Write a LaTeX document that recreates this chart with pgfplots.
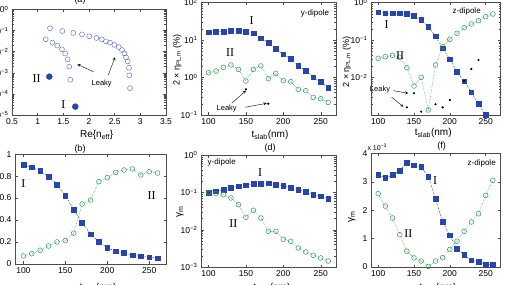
\documentclass[border=0pt]{standalone}
\usepackage{pgfplots}
\pgfplotsset{compat=1.18}
\usepackage{fontspec}
\setmainfont{Liberation Sans}
\newfontfamily\serif{Liberation Serif}
\definecolor{mblue}{RGB}{40,70,170}
\definecolor{mgreen}{RGB}{50,150,85}
\definecolor{abl}{RGB}{80,100,190}
\pgfplotsset{
  mstyle/.style={scale only axis, anchor=south west, axis line style={black!70}, tick style={black!70, thin},
    tick align=inside, major tick length=2.5pt, minor tick length=1.5pt,
    tick label style={font=\fontsize{8.5}{9}\selectfont},
    /pgf/number format/assume math mode=true},
  tax/.style={xmin=90, xmax=270, xtick={100,150,200,250}},
  sq/.style={mblue, mark=square*, mark size=2.4pt, mark options={solid, fill=mblue}, line width=0.5pt,
    dash pattern=on 1.5pt off 1pt on 0.4pt off 1pt},
  ci/.style={mgreen, mark=o, mark size=2.4pt, mark options={solid}, line width=0.5pt, densely dotted},
  lk/.style={only marks, mark=*, mark size=0.9pt, black},
}
\newcommand{\rn}[1]{{\serif\fontsize{12}{12}\selectfont #1}}
\newcommand{\sm}{\fontsize{7.5}{8}\selectfont}
\newcommand{\lb}{\fontsize{10}{11}\selectfont}
\newcommand{\tslab}{t\textsubscript{slab}(nm)}
\newcommand{\etalab}{2 × η\textsubscript{PL,m} (\%)}
\begin{document}
\begin{tikzpicture}[x=1pt,y=1pt]
\useasboundingbox (0,0) rectangle (511,284);
\clip (0,0) rectangle (511,284);
% ---------------- (a)
\begin{axis}[mstyle, at={(12pt,169pt)}, width=154pt, height=105.5pt,
  xmin=0.5, xmax=3.5, xtick={0.5,1,1.5,2,2.5,3,3.5}, xticklabels={0.5,1,1.5,2,2.5,3,3.5},
  ymode=log, ymin=1e-5, ymax=1, ytick={1e-5,1e-4,1e-3,1e-2,1e-1,1},
  minor ytick={2e-5,3e-5,4e-5,5e-5,6e-5,7e-5,8e-5,9e-5,2e-4,3e-4,4e-4,5e-4,6e-4,7e-4,8e-4,9e-4,
    2e-3,3e-3,4e-3,5e-3,6e-3,7e-3,8e-3,9e-3,2e-2,3e-2,4e-2,5e-2,6e-2,7e-2,8e-2,9e-2,0.2,0.3,0.4,0.5,0.6,0.7,0.8,0.9},
  yticklabels={10\textsuperscript{−5},10\textsuperscript{−4},10\textsuperscript{−3},10\textsuperscript{−2},10\textsuperscript{−1},10\textsuperscript{0}}]
\addplot[only marks, abl, mark=o, mark size=2.5pt] coordinates {
(1.240,0.129) (1.480,0.0955) (1.694,0.0776) (1.864,0.0661) (2.006,0.0537) (2.143,0.0447)
(2.247,0.0389) (2.331,0.0309) (2.409,0.0269) (2.493,0.0209) (2.578,0.0166) (2.643,0.0120)
(2.688,0.00832) (2.721,0.00537) (2.754,0.00347) (2.779,0.00174) (2.785,7.6e-4) (2.799,1.86e-4)};
\addplot[only marks, abl, mark=o, mark size=2.5pt] coordinates {
(1.157,0.0389) (1.285,0.0269) (1.383,0.0195) (1.474,0.0129) (1.538,0.00813) (1.585,0.00437)
(1.616,0.00195) (1.636,4.68e-4)};
\addplot[only marks, mblue, mark=*, mark size=3pt] coordinates {(1.227,6.6e-4) (1.733,2.5e-5)};
\end{axis}
\node[font=\fontsize{9}{10}\selectfont] at (80,284) {(a)};
\node at (36.7,205.7) {\rn{II}};
\node at (63.3,179) {\rn{I}};
\node[font=\sm] at (101.7,200.7) {Leaky};
\draw[-stealth, thin] (93.3,212.3) -- (77.3,219.7);
\draw[-stealth, thin] (108.3,209) -- (115,226.7);
\node[font=\lb] at (96.7,149) {Re\{n\textsubscript{eff}\}};
% ---------------- (c)
\begin{axis}[mstyle, tax, at={(201pt,169pt)}, width=134.7pt, height=112.5pt,
  ymode=log, ymin=0.1, ymax=100, ytick={0.1,1,10,100},
  minor ytick={0.2,0.3,0.4,0.5,0.6,0.7,0.8,0.9,2,3,4,5,6,7,8,9,20,30,40,50,60,70,80,90},
  yticklabels={10\textsuperscript{−1},10\textsuperscript{0},10\textsuperscript{1},10\textsuperscript{2}}]
\addplot[sq] coordinates {(100,16.0) (110,16.7) (120,17.0) (130,17.4) (140,17.7) (150,17.0) (160,15.1)
(170,11.1) (180,8.47) (190,5.86) (200,4.15) (210,3.11) (220,2.03) (230,1.52) (240,1.01) (250,0.759) (260,0.535)};
\addplot[ci] coordinates {(100,1.34) (110,1.49) (120,1.87) (130,2.15) (140,1.65) (150,0.807) (160,1.65)
(170,2.03) (180,0.929) (190,1.29) (200,0.822) (210,0.772) (220,0.484) (230,0.445) (240,0.296) (250,0.272) (260,0.218)};
\addplot[lk] coordinates {(150,0.484) (180,0.2)};
\end{axis}
\node at (251.7,263.3) {\rn{I}};
\node at (230,231.3) {\rn{II}};
\node[font=\fontsize{8}{9}\selectfont] at (315,270.7) {y-dipole};
\node[font=\sm] at (226.7,175.7) {Leaky};
\draw[-stealth, thin] (231.7,180.7) -- (246,193.3);
\draw[-stealth, thin] (245,176.7) -- (266.7,180.7);
\node[font=\lb] at (270,149) {\tslab};
\node[font=\fontsize{9}{10}\selectfont, rotate=90] at (177.3,224) {\etalab};
% ---------------- (e)
\begin{axis}[mstyle, tax, at={(371pt,169pt)}, width=129pt, height=112.5pt,
  ymode=log, ymin=1e-3, ymax=1, ytick={1e-3,1e-2,1e-1,1},
  minor ytick={2e-3,3e-3,4e-3,5e-3,6e-3,7e-3,8e-3,9e-3,2e-2,3e-2,4e-2,5e-2,6e-2,7e-2,8e-2,9e-2,0.2,0.3,0.4,0.5,0.6,0.7,0.8,0.9},
  yticklabels={,10\textsuperscript{−2},10\textsuperscript{−1},10\textsuperscript{0}}]
\addplot[sq] coordinates {(100,0.548) (110,0.515) (120,0.515) (130,0.515) (140,0.502) (150,0.436) (160,0.341)
(170,0.226) (180,0.126) (190,0.0601) (200,0.0306) (210,0.0143) (220,0.00793) (230,0.00403) (240,0.00196) (250,0.001) (260,0.0005)};
\addplot[ci] coordinates {(100,0.0324) (110,0.0359) (120,0.0391) (130,0.0346) (140,0.0182) (150,0.00593) (160,0.0101)
(170,0.00136) (180,0.0215) (190,0.0663) (200,0.104) (210,0.151) (220,0.213) (230,0.267) (240,0.327) (250,0.418) (260,0.493)};
\addplot[lk] coordinates {(140,0.0016) (150,0.00379) (160,0.00123) (180,0.00193) (190,0.0016) (200,0.00251)
(220,0.00807) (230,0.0169) (240,0.0293)};
\end{axis}
\node at (386.7,259) {\rn{I}};
\node at (400,228) {\rn{II}};
\node[font=\fontsize{8}{9}\selectfont] at (466.7,272.3) {z-dipole};
\node[font=\sm] at (380,194.7) {Leaky};
\draw[-stealth, thin] (393.3,193.3) -- (408.3,190.7);
\draw[-stealth, thin] (391.7,186.7) -- (403.3,177.3);
\node[font=\lb] at (433.3,150.7) {\tslab};
\node[font=\fontsize{9}{10}\selectfont, rotate=90] at (346.7,222.3) {\etalab};
% ---------------- (b)
\begin{axis}[mstyle, tax, at={(15pt,20.3pt)}, width=151pt, height=109.4pt,
  ymin=0, ymax=1, ytick={0,0.2,0.4,0.6,0.8,1}]
\addplot[sq] coordinates {(100,0.903) (110,0.881) (120,0.848) (130,0.798) (140,0.725) (150,0.621) (160,0.495)
(170,0.373) (180,0.270) (190,0.199) (200,0.144) (210,0.114) (220,0.098) (230,0.077) (240,0.068) (250,0.059) (260,0.050)};
\addplot[ci] coordinates {(100,0.071) (110,0.092) (120,0.123) (130,0.162) (140,0.199) (150,0.211) (160,0.279)
(170,0.545) (180,0.582) (190,0.750) (200,0.786) (210,0.835) (220,0.857) (230,0.866) (240,0.811) (250,0.841) (260,0.829)};
\end{axis}
\node[font=\fontsize{9}{10}\selectfont] at (80,134.7) {(b)};
\node at (23.3,100.3) {\rn{I}};
\node at (151.7,88.7) {\rn{II}};
\node[font=\lb] at (98,-4) {\tslab};
% ---------------- (d)
\begin{axis}[mstyle, tax, at={(201pt,17pt)}, width=134.7pt, height=111.7pt,
  ymode=log, ymin=1e-3, ymax=1, ytick={1e-3,1e-2,1e-1,1},
  minor ytick={2e-3,3e-3,4e-3,5e-3,6e-3,7e-3,8e-3,9e-3,2e-2,3e-2,4e-2,5e-2,6e-2,7e-2,8e-2,9e-2,0.2,0.3,0.4,0.5,0.6,0.7,0.8,0.9},
  yticklabels={10\textsuperscript{−3},10\textsuperscript{−2},10\textsuperscript{−1},10\textsuperscript{0}}]
\addplot[sq] coordinates {(100,0.0993) (110,0.108) (120,0.120) (130,0.133) (140,0.148) (150,0.157) (160,0.170)
(170,0.170) (180,0.178) (190,0.163) (200,0.150) (210,0.135) (220,0.120) (230,0.104) (240,0.0879) (250,0.0795) (260,0.0686)};
\addplot[ci] coordinates {(100,0.0993) (110,0.0933) (120,0.0879) (130,0.0716) (140,0.0473) (150,0.0217) (160,0.0334)
(170,0.0207) (180,0.00912) (190,0.00912) (200,0.00556) (210,0.00491) (220,0.00324) (230,0.00253) (240,0.00206) (250,0.00175) (260,0.00145)};
\end{axis}
\node[font=\fontsize{9}{10}\selectfont] at (270,136) {(d)};
\node[font=\fontsize{8}{9}\selectfont] at (221.7,122) {y-dipole};
\node at (260,111.3) {\rn{I}};
\node at (233.3,60.3) {\rn{II}};
\node[font=\lb, rotate=90] at (180,72) {γ\textsubscript{m}};
\node[font=\lb] at (272,-4) {\tslab};
% ---------------- (f)
\begin{axis}[mstyle, tax, at={(371pt,17pt)}, width=129pt, height=113.3pt,
  ymin=0, ymax=4, ytick={0,1,2,3,4}]
\addplot[sq] coordinates {(100,3.26) (110,3.14) (120,3.25) (130,3.41) (140,3.67) (150,3.59) (160,3.53)
(170,3.18) (180,2.41) (190,1.59) (200,1.12) (210,0.65) (220,0.43) (230,0.24) (240,0.18) (250,0.08) (260,0.08)};
\addplot[ci] coordinates {(100,2.59) (110,2.15) (120,1.73) (130,1.14) (140,0.56) (150,0.32) (160,0.21)
(170,0.02) (180,0.21) (190,0.33) (200,0.62) (210,0.91) (220,1.26) (230,1.59) (240,1.88) (250,2.53) (260,3.06)};
\end{axis}
\node[font=\fontsize{9}{10}\selectfont] at (441.7,138) {(f)};
\node[font=\fontsize{7}{8}\selectfont, anchor=west] at (364,137) {x 10\textsuperscript{−3}};
\node[font=\fontsize{8}{9}\selectfont] at (481.7,120.3) {z-dipole};
\node at (435,103.7) {\rn{I}};
\node at (408.3,50.3) {\rn{II}};
\node[font=\lb, rotate=90] at (351.7,67) {γ\textsubscript{m}};
\node[font=\lb] at (438,-4) {\tslab};
\end{tikzpicture}
\end{document}
